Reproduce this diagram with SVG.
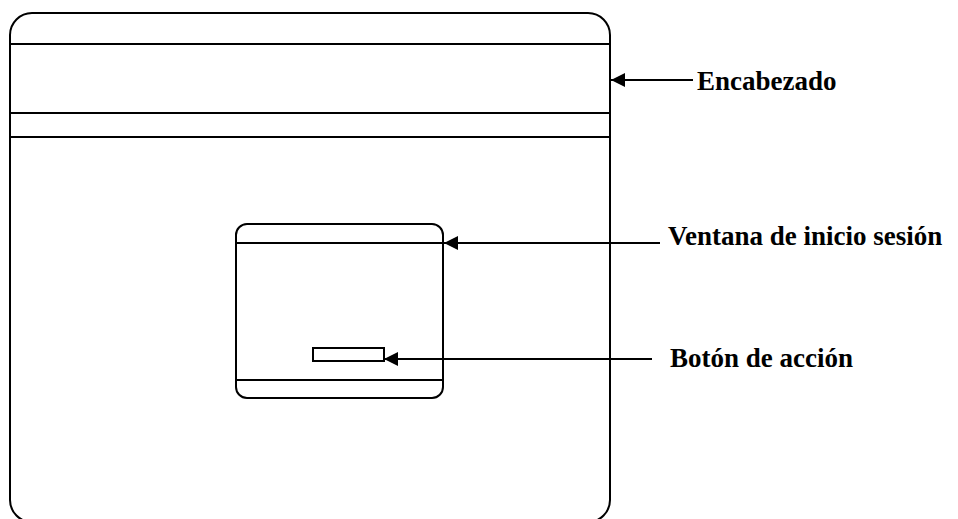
<svg xmlns="http://www.w3.org/2000/svg" width="958" height="519" viewBox="0 0 958 519">
<defs>
<style>
.box{fill:#fff;stroke:#000;stroke-width:2}
.ln{stroke:#000;stroke-width:2;fill:none}
.lbl{font-family:"Liberation Serif","Times New Roman",serif;font-weight:bold;font-size:27px;fill:#000}
</style>
<marker id="ah" viewBox="0 0 14 14" refX="14" refY="7" markerWidth="14" markerHeight="14" markerUnits="userSpaceOnUse" orient="auto">
<path d="M0,0 L14,7 L0,14 z" fill="#000"/>
</marker>
</defs>
<rect width="958" height="519" fill="#fff"/>
<g id="pagina">
<rect class="box" x="10" y="13" width="600" height="509" rx="22" ry="22"/>
<line class="ln" x1="10" y1="44" x2="610" y2="44"/>
<line class="ln" x1="10" y1="113" x2="610" y2="113"/>
<line class="ln" x1="10" y1="137" x2="610" y2="137"/>
</g>
<g id="ventana">
<rect class="box" x="236" y="224" width="207" height="174" rx="11" ry="11"/>
<line class="ln" x1="236" y1="243" x2="443" y2="243"/>
<line class="ln" x1="236" y1="380" x2="443" y2="380"/>
</g>
<g id="boton">
<rect class="box" x="313" y="348" width="71" height="13"/>
</g>
<g id="connectors">
<line class="ln" x1="693" y1="80" x2="611" y2="80" marker-end="url(#ah)"/>
<line class="ln" x1="660" y1="243" x2="444" y2="243" marker-end="url(#ah)"/>
<line class="ln" x1="652" y1="359" x2="384" y2="359" marker-end="url(#ah)"/>
</g>
<g id="labels">
<text class="lbl" x="697" y="90">Encabezado</text>
<text class="lbl" x="668" y="245">Ventana de inicio sesión</text>
<text class="lbl" x="670" y="367">Botón de acción</text>
</g>
</svg>
